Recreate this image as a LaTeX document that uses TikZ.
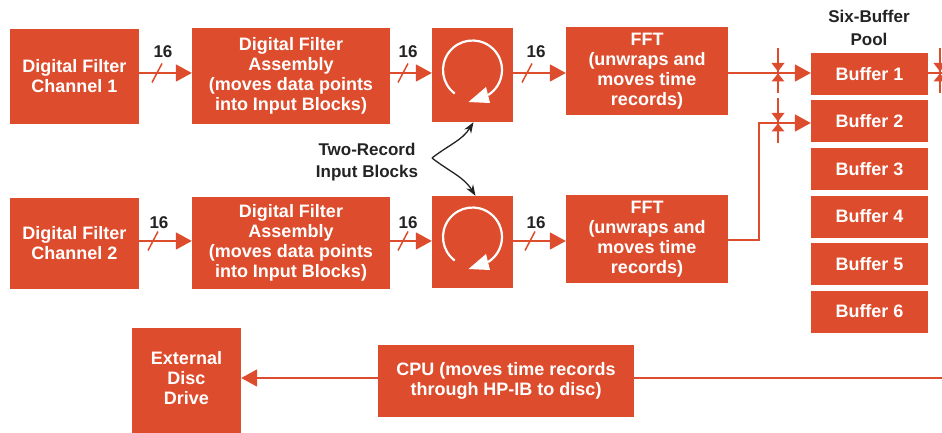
\documentclass[tikz,border=0pt]{standalone}
\usepackage{fontspec}
\setmainfont{Liberation Sans}
\usetikzlibrary{arrows.meta,calc}
\definecolor{boxred}{RGB}{221,76,44}
\definecolor{ink}{RGB}{35,35,35}
\begin{document}
\begin{tikzpicture}[x=1pt,y=1pt,
  blk/.style={fill=boxred, text=white, font=\bfseries\fontsize{18}{20}\selectfont, align=center, inner sep=0pt},
  bus/.style={draw=boxred, line width=1.8pt, -{Triangle[length=16pt,width=17pt]}},
  wire/.style={draw=boxred, line width=1.8pt},
  slash/.style={draw=boxred, line width=1.5pt},
  lbl/.style={text=ink, font=\bfseries\fontsize{17}{20}\selectfont, inner sep=0pt},
  note/.style={ink, line width=1.3pt, -{Stealth[length=11pt,width=8pt]}},
  valvemark/.pic={
    \draw[boxred, line width=1.5pt] (0,25) -- (0,-20);
    \fill[boxred] (-6.5,10) -- (6.5,10) -- (0,1.5) -- cycle;
    \fill[boxred] (-6.5,-8.5) -- (6.5,-8.5) -- (0,-0.5) -- cycle;
  },
  loopmark/.pic={
    \draw[white, line width=2.2pt] (233:29.5) arc[start angle=233, end angle=-58, radius=29.5];
    \fill[white] (-4,-32) -- (13.5,-17) -- (17.5,-33) -- cycle;
  }]
\useasboundingbox (0,0) rectangle (942,-433);
\fill[white] (0,0) rectangle (942,-433);

% reference rows
\coordinate (r1) at (0,-73);
\coordinate (r2) at (0,-241);

% row 1
\node[blk, minimum width=129, minimum height=95] (dfc1) at (74.5,-76.5) {Digital Filter\\Channel 1};
\node[blk, minimum width=198, minimum height=96] (dfa1) at (291,-76) {Digital Filter\\Assembly\\(moves data points\\into Input Blocks)};
\node[blk, minimum width=81, minimum height=94] (loop1) at (472.5,-75) {};
\node[blk, minimum width=162, minimum height=88] (fft1) at (647,-71) {FFT\\(unwraps and\\moves time\\records)};

% row 2
\node[blk, minimum width=129, minimum height=91] (dfc2) at (74.5,-243.5) {Digital Filter\\Channel 2};
\node[blk, minimum width=198, minimum height=92] (dfa2) at (291,-243) {Digital Filter\\Assembly\\(moves data points\\into Input Blocks)};
\node[blk, minimum width=81, minimum height=92] (loop2) at (472.5,-242) {};
\node[blk, minimum width=162, minimum height=88] (fft2) at (647,-239) {FFT\\(unwraps and\\moves time\\records)};

% loop symbols
\pic at ($(loop1.center)+(0,5)$) {loopmark};
\pic at ($(loop2.center)+(0,5)$) {loopmark};

% buffers
\node[lbl, align=center, font=\bfseries\fontsize{17}{23}\selectfont] (pool) at (869,-28) {Six-Buffer\\Pool};
\foreach \i/\y in {1/74,2/121.5,3/169,4/216.5,5/264,6/311.5}
  \node[blk, minimum width=117, minimum height=42] (b\i) at (869.5,-\y) {Buffer \i};

% bottom
\node[blk, minimum width=109, minimum height=100] (edd) at (186.5,-378) {External\\Disc\\Drive};
\fill[boxred] (edd.south west) rectangle ($(edd.south east)+(0,-15)$);
\node[blk, minimum width=256, minimum height=72] (cpu) at (506,-381) {CPU (moves time records\\through HP-IB to disc)};

% buses row 1
\draw[bus] (dfc1.east |- r1) -- (dfa1.west |- r1);
\draw[bus] (dfa1.east |- r1) -- (loop1.west |- r1);
\draw[bus] (loop1.east |- r1) -- (fft1.west |- r1);
% buses row 2
\draw[bus] (dfc2.east |- r2) -- (dfa2.west |- r2);
\draw[bus] (dfa2.east |- r2) -- (loop2.west |- r2);
\draw[bus] (loop2.east |- r2) -- (fft2.west |- r2);

% slashes and widths
\draw[slash] (152,-82.5) -- ++(10,19);
\draw[slash] (398,-82.5) -- ++(10,19);
\draw[slash] (522,-82.5) -- ++(10,19);
\draw[slash] (148,-250.5) -- ++(10,19);
\draw[slash] (398,-250.5) -- ++(10,19);
\draw[slash] (525,-250.5) -- ++(10,19);
\node[lbl] (w1) at (163,-52) {16};
\node[lbl] (w2) at (408,-52) {16};
\node[lbl] (w3) at (536,-52) {16};
\node[lbl] (w4) at (159,-223) {16};
\node[lbl] (w5) at (408,-223) {16};
\node[lbl] (w6) at (536,-223) {16};

% FFT to buffers
\coordinate (v1) at (778,-73);
\coordinate (v2) at (778,-123);
\coordinate (t2) at (759,-240);
\draw[bus] (fft1.east |- v1) -- (v1 -| b1.west);
\draw[bus] (fft2.east |- t2) -- (t2) |- (v2 -| b2.west);
\pic at (v1) {valvemark};
\pic at (v2) {valvemark};

% buffer 1 exit
\coordinate (x1) at (960,-73);
\draw[wire] (b1.east |- x1) -- (x1);
\pic at (940,-73) {valvemark};

% CPU to disc
\coordinate (x2) at (960,-378);
\draw[wire] (x2) -- (cpu.east |- x2);
\draw[bus] (cpu.west |- edd.east) -- (edd.east);

% Two-record note
\node[lbl, align=center, font=\bfseries\fontsize{17}{22}\selectfont] (tr) at (367,-162) {Two-Record\\Input Blocks};
\coordinate (J) at (432,-158);
\draw[note] (J) to[out=38,in=238] ($(loop1.south)+(1,0)$);
\draw[note] (J) to[out=-38,in=122] ($(loop2.north)+(3,0)$);
\end{tikzpicture}
\end{document}
